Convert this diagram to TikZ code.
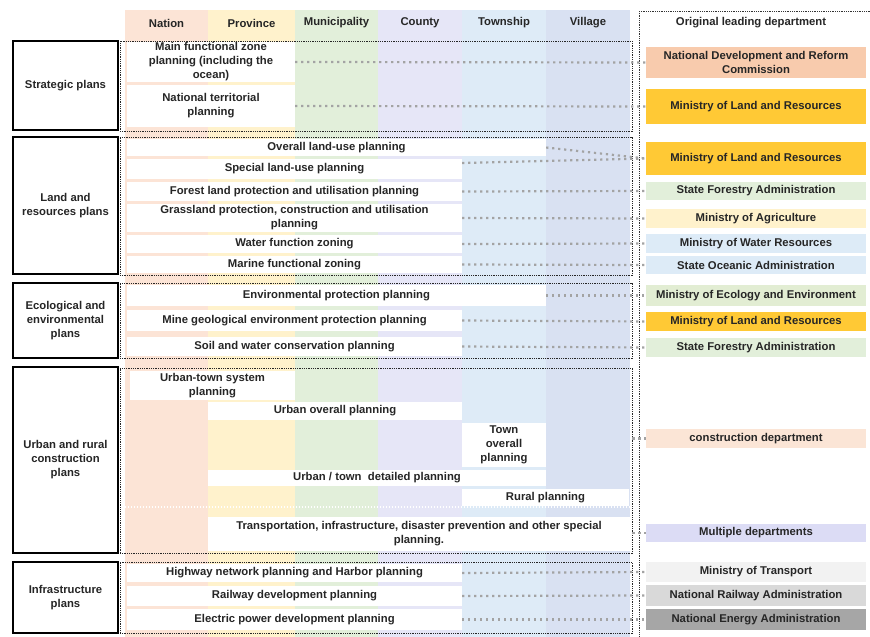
\documentclass[tikz,border=0pt]{standalone}
\usepackage{fontspec}
\setmainfont{Liberation Sans}
\usetikzlibrary{calc}
\definecolor{cNation}{HTML}{FCE4D6}
\definecolor{cProv}{HTML}{FFF2CC}
\definecolor{cMun}{HTML}{E2EFDA}
\definecolor{cCounty}{HTML}{E6E6F7}
\definecolor{cTown}{HTML}{DEEBF7}
\definecolor{cVill}{HTML}{D9E1F2}
\definecolor{txt}{HTML}{262626}
\definecolor{dNDRC}{HTML}{F8CBAD}
\definecolor{dMLR}{HTML}{FFC935}
\definecolor{dSFA}{HTML}{E2EFDA}
\definecolor{dMoA}{HTML}{FFF2CC}
\definecolor{dWater}{HTML}{DDEBF7}
\definecolor{dMEE}{HTML}{E2EDD3}
\definecolor{dCon}{HTML}{FBE5D6}
\definecolor{dMul}{HTML}{DCDCF5}
\definecolor{dMoT}{HTML}{F2F2F2}
\definecolor{dNRA}{HTML}{D9D9D9}
\definecolor{dNEA}{HTML}{A6A6A6}
\definecolor{linkc}{HTML}{A3A3A3}
\begin{document}
\begin{tikzpicture}[x=1pt,y=-1pt,
  every node/.style={font=\fontsize{11.3}{14}\selectfont\bfseries, text=txt, inner sep=0pt, align=center},
  plan/.style={fill=white},
  catbox/.style={draw=black, line width=1.3pt, fill=white, minimum width=105pt},
  grpbox/.style={draw=black!85, line width=0.8pt, dash pattern=on 0.9pt off 0.9pt, minimum width=512pt},
  dept/.style={minimum width=220pt},
  link/.style={draw=linkc, line width=2.2pt, dash pattern=on 2.2pt off 3.8pt},
  frameline/.style={draw=black!80, line width=0.8pt, dash pattern=on 0.9pt off 0.9pt}
]
\useasboundingbox (0,0) rectangle (870,637);
% column bands
\fill[cNation] (125,10) rectangle (208,637);
\fill[cProv] (208,10) rectangle (295,637);
\fill[cMun] (295,10) rectangle (378,637);
\fill[cCounty] (378,10) rectangle (462,637);
\fill[cTown] (462,10) rectangle (546,637);
\fill[cVill] (546,10) rectangle (630,637);
% headers
\node (hNation) at (166.5,23) {Nation};
\node (hProv) at (251.5,23) {Province};
\node (hMun) at (336.5,23) {Municipality};
\node (hCounty) at (420,23) {County};
\node (hTown) at (504,23) {Township};
\node (hVill) at (588,23) {Village};
\node (hDept) at (751,23) {Original leading department};
\draw[frameline] (639,11) -- (639,637);
\draw[frameline] (639,11) -- (870,11);
% plans: strategic
\node[plan, minimum width=168, minimum height=40] (mfz) at (211,62) {Main functional zone\\planning (including the\\ocean)};
\node[plan, minimum width=168, minimum height=42] (ntp) at (211,106) {National territorial\\planning};
% land
\node[plan, minimum width=419, minimum height=17] (olu) at (336.5,147.5) {Overall land-use planning};
\node[plan, minimum width=335, minimum height=20] (slu) at (294.5,169) {Special land-use planning};
\node[plan, minimum width=335, minimum height=19] (flp) at (294.5,191.5) {Forest land protection and utilisation planning};
\node[plan, minimum width=335, minimum height=28] (gpc) at (294.5,218) {Grassland protection, construction and utilisation\\planning};
\node[plan, minimum width=335, minimum height=18] (wfz) at (294.5,244) {Water function zoning};
\node[plan, minimum width=335, minimum height=17] (mfzn) at (294.5,264.5) {Marine functional zoning};
% eco
\node[plan, minimum width=419, minimum height=21] (epp) at (336.5,295.5) {Environmental protection planning};
\node[plan, minimum width=335, minimum height=21] (mge) at (294.5,320.5) {Mine geological environment protection planning};
\node[plan, minimum width=335, minimum height=19] (swc) at (294.5,346.5) {Soil and water conservation planning};
% urban
\node[plan, minimum width=165, minimum height=29] (uts) at (212.5,385.5) {Urban-town system\\planning};
\node[plan, minimum width=254, minimum height=18] (uop) at (335,411) {Urban overall planning};
\node[plan, minimum width=84, minimum height=44] (top) at (504,445) {Town\\overall\\planning};
\node[plan, minimum width=338, minimum height=16] (utd) at (377,478) {Urban / town\ \ detailed planning};
\node[plan, minimum width=167, minimum height=17] (rur) at (545.5,497.5) {Rural planning};
\draw[white, line width=1.2pt, dash pattern=on 1.2pt off 1.8pt] (125,507) -- (630,507);
\node[plan, minimum width=422, minimum height=34] (tra) at (419,534) {Transportation, infrastructure, disaster prevention and other special\\planning.};
% infra
\node[plan, minimum width=335, minimum height=18] (hwy) at (294.5,573) {Highway network planning and Harbor planning};
\node[plan, minimum width=335, minimum height=20] (rwy) at (294.5,596) {Railway development planning};
\node[plan, minimum width=335, minimum height=21] (elp) at (294.5,619.5) {Electric power development planning};
% group boxes
\node[grpbox, minimum height=90] (g1) at (376,86) {};
\node[grpbox, minimum height=138] (g2) at (376,206) {};
\node[grpbox, minimum height=75] (g3) at (376,320.5) {};
\node[grpbox, minimum height=185] (g4) at (376,460.5) {};
\node[grpbox, minimum height=71] (g5) at (376,597.5) {};
% category boxes
\node[catbox, minimum height=89] (csp) at (65.5,85.5) {Strategic plans};
\node[catbox, minimum height=137] (clr) at (65.5,205.5) {Land and\\resources plans};
\node[catbox, minimum height=75] (cee) at (65.5,320.5) {Ecological and\\environmental\\plans};
\node[catbox, minimum height=186] (cur) at (65.5,460) {Urban and rural\\construction\\plans};
\node[catbox, minimum height=71] (cin) at (65.5,597.5) {Infrastructure\\plans};
% departments
\node[dept, fill=dNDRC, minimum height=31] (ndrc) at (756,62.5) {National Development and Reform\\Commission};
\node[dept, fill=dMLR, minimum height=35] (mlr1) at (756,106.5) {Ministry of Land and Resources};
\node[dept, fill=dMLR, minimum height=33] (mlr2) at (756,158.5) {Ministry of Land and Resources};
\node[dept, fill=dSFA, minimum height=18] (sfa1) at (756,191) {State Forestry Administration};
\node[dept, fill=dMoA, minimum height=19] (moa) at (756,218.5) {Ministry of Agriculture};
\node[dept, fill=dWater, minimum height=19] (mwr) at (756,243.5) {Ministry of Water Resources};
\node[dept, fill=dWater, minimum height=18] (soa) at (756,265) {State Oceanic Administration};
\node[dept, fill=dMEE, minimum height=21] (mee) at (756,295.5) {Ministry of Ecology and Environment};
\node[dept, fill=dMLR, minimum height=19] (mlr3) at (756,321.5) {Ministry of Land and Resources};
\node[dept, fill=dSFA, minimum height=19] (sfa2) at (756,347.5) {State Forestry Administration};
\node[dept, fill=dCon, minimum height=19] (con) at (756,438.5) {construction department};
\node[dept, fill=dMul, minimum height=18] (mul) at (756,533) {Multiple departments};
\node[dept, fill=dMoT, minimum height=20] (mot) at (756,572) {Ministry of Transport};
\node[dept, fill=dNRA, minimum height=21] (nra) at (756,595.5) {National Railway Administration};
\node[dept, fill=dNEA, minimum height=21] (nea) at (756,619.5) {National Energy Administration};
% links
\draw[link] (mfz.east) -- (ndrc.west);
\draw[link] (ntp.east) -- (mlr1.west);
\draw[link] (olu.east) -- (mlr2.west);
\draw[link] ($(slu.east)+(0,-6)$) -- (mlr2.west);
\draw[link] (flp.east) -- (sfa1.west);
\draw[link] (gpc.east) -- (moa.west);
\draw[link] (wfz.east) -- (mwr.west);
\draw[link] (mfzn.east) -- (soa.west);
\draw[link] (epp.east) -- (mee.west);
\draw[link] (mge.east) -- (mlr3.west);
\draw[link] (swc.east) -- (sfa2.west);
\draw[link] (g4.east |- con.west) -- (con.west);
\draw[link] (g4.east |- mul.west) -- (mul.west);
\draw[link] (hwy.east) -- (mot.west);
\draw[link] (rwy.east) -- (nra.west);
\draw[link] (elp.east) -- (nea.west);
\end{tikzpicture}
\end{document}
